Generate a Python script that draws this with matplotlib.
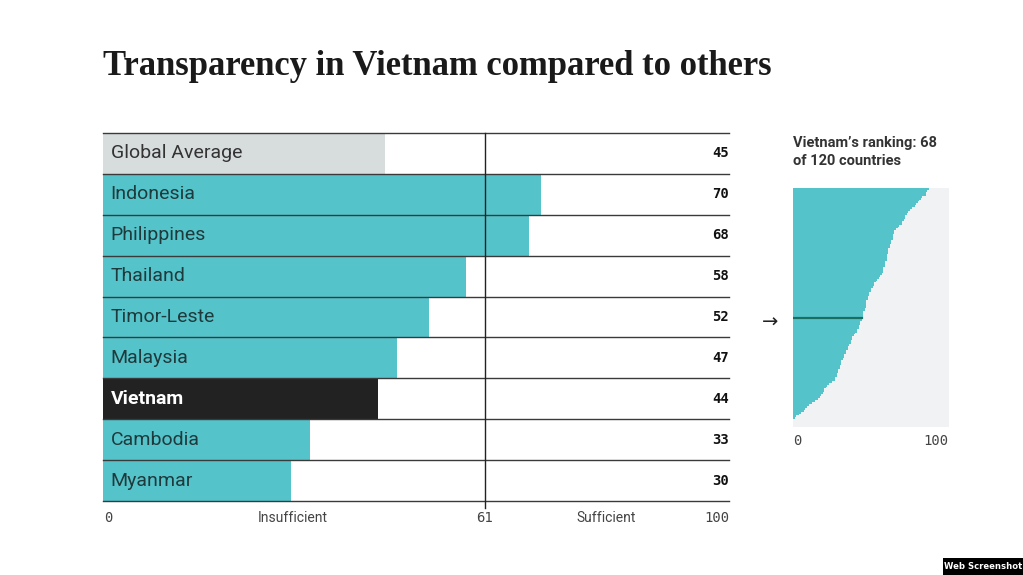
import matplotlib
matplotlib.use("Agg")
import matplotlib.pyplot as plt
from matplotlib.patches import Rectangle

# ---------------- data ----------------
countries = ["Global Average", "Indonesia", "Philippines", "Thailand", "Timor-Leste",
             "Malaysia", "Vietnam", "Cambodia", "Myanmar"]
scores = [45, 70, 68, 58, 52, 47, 44, 33, 30]
threshold = 61

# distribution of 120 country scores (sorted)
all_scores = [87, 86, 85, 85, 83, 82, 81, 80, 79, 78,
              76, 75, 74, 73, 72, 72, 71, 70, 70, 68,
              67, 66, 65, 65, 64, 64, 64, 63, 63, 62,
              62, 61, 61, 61, 60, 60, 60, 60, 59, 59,
              59, 58, 58, 58, 57, 56, 55, 54, 53, 52,
              52, 51, 50, 50, 49, 49, 48, 48, 47, 47,
              47, 47, 46, 46, 45, 45, 45, 44, 44, 43,
              43, 42, 42, 41, 41, 40, 39, 38, 38, 37,
              37, 36, 35, 35, 34, 34, 33, 33, 32, 31,
              31, 31, 30, 30, 29, 29, 28, 28, 27, 27,
              25, 23, 22, 21, 20, 20, 19, 18, 17, 16,
              14, 12, 10, 9, 8, 7, 5, 4, 2, 1]
vietnam_rank = 68

# ---------------- style ----------------
TEAL = "#55c3ca"
GREY_BAR = "#d7dcdc"
DARK = "#222222"
W, H = 1023, 575

fig = plt.figure(figsize=(W / 100, H / 100), dpi=100)
fig.patch.set_facecolor("white")

def ax_rect(x0, y0, x1, y1):
    return [x0 / W, 1 - y1 / H, (x1 - x0) / W, (y1 - y0) / H]

# title
fig.text(103 / W, 1 - 67 / H, "Transparency in Vietnam compared to others",
         family="Liberation Serif", weight="bold", fontsize=24.9, color="#1a1a1a",
         ha="left", va="center")

# ---------------- main bar chart ----------------
ax = fig.add_axes(ax_rect(103, 133, 729, 501))
n = len(countries)
colors = []
for c in countries:
    if c == "Global Average":
        colors.append(GREY_BAR)
    elif c == "Vietnam":
        colors.append(DARK)
    else:
        colors.append(TEAL)
ypos = [i + 0.5 for i in range(n)]
ax.barh(ypos, scores, height=1.0, color=colors, zorder=1, linewidth=0)
ax.set_xlim(0, 100)
ax.set_ylim(n, 0)
for i in range(n + 1):
    ax.axhline(i, color="#3a3a3a", lw=1.0, zorder=3, clip_on=False)
ax.plot([threshold, threshold], [0, n + 0.18], color="#222222", lw=1.0,
        zorder=3, clip_on=False)
for i, (c, s) in enumerate(zip(countries, scores)):
    if c == "Vietnam":
        tc, tw = "white", "bold"
    elif c == "Global Average":
        tc, tw = "#333333", "normal"
    else:
        tc, tw = "#1f3a3c", "normal"
    ax.text(1.2, i + 0.5, c, family="Roboto", fontsize=14, color=tc,
            weight=tw, ha="left", va="center", zorder=4)
    ax.text(100, i + 0.5, str(s), family="DejaVu Sans Mono", weight="bold",
            fontsize=10, color="#111111", ha="right", va="center", zorder=4)
ax.axis("off")

# bottom labels
ylab = 1 - 518 / H
def xpx(v):
    return (103 + v / 100 * (729 - 103)) / W
fig.text(xpx(0) + 1 / W, ylab, "0", family="DejaVu Sans Mono", fontsize=10,
         color="#444444", ha="left", va="center")
fig.text(293 / W, ylab, "Insufficient", family="Roboto", fontsize=10,
         color="#444444", ha="center", va="center")
fig.text(xpx(threshold), ylab, str(threshold), family="DejaVu Sans Mono",
         fontsize=10, color="#444444", ha="center", va="center")
fig.text(606 / W, ylab, "Sufficient", family="Roboto", fontsize=10,
         color="#444444", ha="center", va="center")
fig.text(xpx(100), ylab, "100", family="DejaVu Sans Mono", fontsize=10,
         color="#444444", ha="right", va="center")

# ---------------- right panel ----------------
ax2 = fig.add_axes(ax_rect(793, 188, 949, 427))
ax2.set_facecolor("#f1f2f4")
m = len(all_scores)
ax2.barh([i + 0.5 for i in range(m)], all_scores, height=1.0, color=TEAL,
         linewidth=0)
ax2.plot([0, all_scores[vietnam_rank - 1]], [vietnam_rank - 0.5] * 2,
         color="#1b6e62", lw=1.6)
ax2.set_xlim(0, 100)
ax2.set_ylim(m + 4, 0)
ax2.set_xticks([])
ax2.set_yticks([])
for s in ax2.spines.values():
    s.set_visible(False)

fig.text(793 / W, 1 - 152 / H, "Vietnam\u2019s ranking: 68\nof 120 countries",
         family="Roboto", weight="bold", fontsize=10.5, color="#333333",
         ha="left", va="center", linespacing=1.45)
fig.text(770 / W, 1 - 322 / H, "\u2192", family="DejaVu Sans", fontsize=14,
         color="#222222", ha="center", va="center")
fig.text(797 / W, 1 - 441 / H, "0", family="DejaVu Sans Mono", fontsize=10,
         color="#444444", ha="center", va="center")
fig.text(948 / W, 1 - 441 / H, "100", family="DejaVu Sans Mono", fontsize=10,
         color="#444444", ha="right", va="center")

# watermark label
fig.patches.append(Rectangle((943 / W, 0), 80 / W, 17 / H, transform=fig.transFigure,
                             facecolor="black", edgecolor="none"))
fig.text(983 / W, 8.5 / H, "Web Screenshot", family="DejaVu Sans",
         weight="bold", fontsize=6.1, color="white", ha="center", va="center")

fig.savefig("out.png", dpi=100, facecolor="white")
